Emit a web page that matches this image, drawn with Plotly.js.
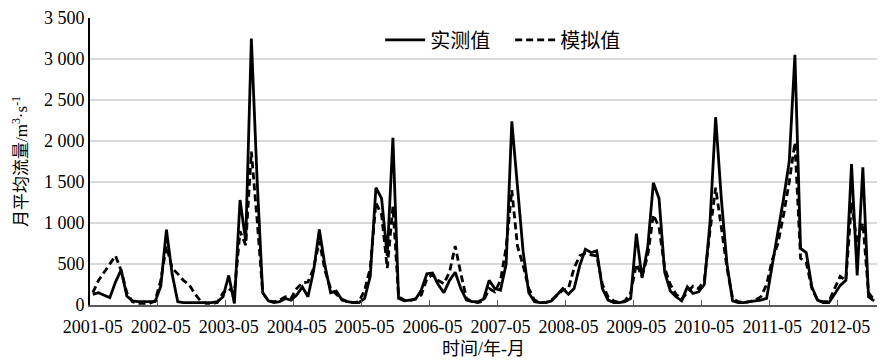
<!DOCTYPE html>
<html>
<head>
<meta charset="utf-8">
<script src="https://cdn.plot.ly/plotly-3.0.1.min.js"></script>
<style>
  html, body { margin: 0; padding: 0; background: #fff; }
  #chart { width: 880px; height: 360px; }
  #chart svg text { font-family: "Liberation Serif", "Times New Roman", "Noto Sans CJK SC", serif !important; }
</style>
</head>
<body>
<div id="chart"></div>
<script>
// Monthly flow, starting 2001-05 (one value per month)
const observed = [
  130, 150, 120, 90, 280, 430, 110, 50, 40, 40, 40, 40,
  230, 920, 380, 40, 30, 30, 30, 30, 30, 30, 40, 100,
  360, 20, 1280, 780, 3250, 1550, 150, 50, 30, 40, 80, 60,
  120, 220, 100, 420, 920, 480, 150, 170, 60, 40, 30, 30,
  80, 350, 1430, 1300, 600, 2040, 80, 50, 60, 70, 180, 380,
  390, 250, 150, 300, 400, 200, 60, 40, 40, 70, 300, 200,
  180, 500, 2240, 1400, 650, 150, 40, 30, 30, 50, 120, 200,
  130, 200, 480, 680, 640, 660, 200, 60, 30, 30, 40, 80,
  870, 330, 700, 1490, 1300, 400, 170, 100, 50, 220, 140, 160,
  250, 1000, 2290, 1300, 500, 50, 30, 30, 40, 50, 60, 80,
  480, 880, 1300, 1750, 3050, 690, 640, 220, 60, 30, 30, 130,
  240, 300, 1720, 360, 1680, 100, 50
];
const simulated = [
  150, 300, 400, 500, 600, 420, 150, 40, 20, 20, 20, 50,
  300, 720, 450, 380, 300, 250, 140, 50, 20, 20, 30, 150,
  200, 150, 900, 730, 1870, 1050, 150, 50, 40, 60, 100, 80,
  200, 270, 280, 450, 780, 420, 200, 130, 70, 40, 30, 40,
  180, 450, 1250, 1100, 450, 1200, 100, 60, 50, 80, 120, 320,
  370, 300, 260, 400, 720, 380, 80, 40, 30, 50, 200, 160,
  300, 700, 1400, 720, 480, 200, 60, 30, 30, 60, 120, 180,
  200, 450, 600, 630, 610, 600, 250, 100, 50, 30, 50, 150,
  500, 350, 600, 1100, 950, 450, 250, 130, 70, 150, 230, 200,
  300, 900, 1430, 950, 450, 80, 40, 30, 40, 60, 100, 250,
  550, 750, 1100, 1500, 1980, 570, 520, 200, 60, 40, 40, 200,
  350, 300, 1250, 750, 1000, 150, 60
];
const seriesNames = ['实测值', '模拟值'];
const xTickPositions = [0, 12, 24, 36, 48, 60, 72, 84, 96, 108, 120, 132];
const xTickLabels = ['2001-05', '2002-05', '2003-05', '2004-05', '2005-05', '2006-05',
                     '2007-05', '2008-05', '2009-05', '2010-05', '2011-05', '2012-05'];
const yTickValues = [0, 500, 1000, 1500, 2000, 2500, 3000, 3500];
const yTickLabels = ['0', '500', '1 000', '1 500', '2 000', '2 500', '3 000', '3 500'];

const monthIndex = observed.map((_, i) => i);
const boundaries = xTickPositions.slice(1).map(v => v - 0.5);

const FONT = 'Liberation Serif, Times New Roman, Noto Sans CJK SC, serif';

const traces = [
  {
    x: monthIndex, y: observed, name: seriesNames[0], type: 'scatter', mode: 'lines',
    line: { color: '#000', width: 2.8 }, hoverinfo: 'skip'
  },
  {
    x: monthIndex, y: simulated, name: seriesNames[1], type: 'scatter', mode: 'lines',
    line: { color: '#000', width: 2.8, dash: '7px,4px' }, hoverinfo: 'skip'
  }
];

const layout = {
  width: 880, height: 360,
  margin: { l: 90, r: 3, t: 18, b: 55, autoexpand: false },
  paper_bgcolor: '#fff', plot_bgcolor: '#fff',
  font: { family: FONT, size: 18, color: '#000' },
  showlegend: true,
  legend: {
    orientation: 'h', xref: 'container', yref: 'container',
    x: 0.432, xanchor: 'left', y: 0.889, yanchor: 'middle',
    bgcolor: 'rgba(0,0,0,0)', font: { family: FONT, size: 20, color: '#000' },
    itemwidth: 40, entrywidth: 75, entrywidthmode: 'pixels'
  },
  xaxis: {
    range: [-0.5, observed.length - 0.5],
    tickmode: 'array', tickvals: xTickPositions, ticktext: xTickLabels,
    ticks: '', showgrid: false, zeroline: false,
    showline: true, linecolor: '#595959', linewidth: 2,
    tickfont: { family: FONT, size: 18, color: '#000' },
    ticklabelstandoff: 4,
    minor: { tickmode: 'array', tickvals: boundaries, ticks: 'inside', ticklen: 5, tickwidth: 1, tickcolor: '#595959', showgrid: false },
    title: { text: '时间/年-月', font: { family: FONT, size: 18, color: '#000' }, standoff: 7 }
  },
  yaxis: {
    range: [0, 3500],
    tickmode: 'array', tickvals: yTickValues, ticktext: yTickLabels,
    ticks: '', showgrid: true, gridcolor: '#d9d9d9', gridwidth: 1.5, zeroline: false,
    showline: true, linecolor: '#000', linewidth: 2,
    tickfont: { family: FONT, size: 18, color: '#000' },
    title: { text: '月平均流量/m<sup>3</sup>·s<sup>-1</sup>', font: { family: FONT, size: 17, color: '#000' }, standoff: 12 }
  }
};

Plotly.newPlot('chart', traces, layout, { staticPlot: true, displayModeBar: false });
</script>
</body>
</html>
